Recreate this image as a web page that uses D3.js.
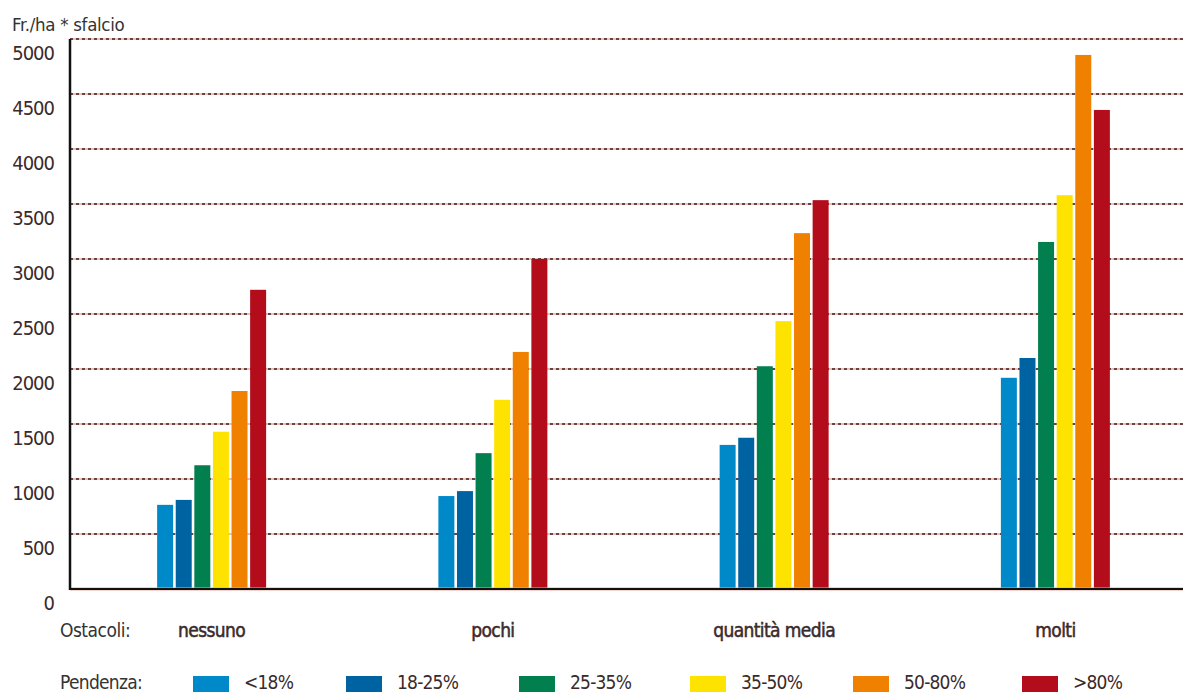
<!DOCTYPE html>
<html>
<head>
<meta charset="utf-8">
<script src="https://cdn.jsdelivr.net/npm/d3@7"></script>
<style>
  html, body { margin: 0; padding: 0; background: #fff; }
  svg { display: block; }
  text { font-family: "Liberation Sans Narrow", "DejaVu Sans Condensed", "Arial Narrow", sans-serif; }
</style>
</head>
<body>
<svg id="chart" width="1185" height="695"></svg>
<script>
// Obstacle categories (x groups)
const categories = ["nessuno", "pochi", "quantità media", "molti"];
// Slope classes (series)
const slopes = ["<18%", "18-25%", "25-35%", "35-50%", "50-80%", ">80%"];
// Costs in Fr./ha per cut, one array per slope class, in category order
const slope18 = [765, 845, 1310, 1920];
const slope18_25 = [810, 890, 1375, 2100];
const slope25_35 = [1125, 1235, 2025, 3155];
const slope35_50 = [1430, 1720, 2435, 3580];
const slope50_80 = [1800, 2155, 3235, 4855];
const slope80 = [2720, 3000, 3535, 4355];
const seriesValues = [slope18, slope18_25, slope25_35, slope35_50, slope50_80, slope80];
// Y axis ticks
const yTicks = [0, 500, 1000, 1500, 2000, 2500, 3000, 3500, 4000, 4500, 5000];
const colors = ["#0089c9", "#0063a1", "#027f4e", "#ffe300", "#f08100", "#b30d1b"];

const svg = d3.select("#chart");
const textColor = "#3b2a2a";

const plotLeft = 70, plotRight = 1183, plotTop = 39, plotBottom = 589;

const y = d3.scaleLinear().domain([0, 5000]).range([plotBottom, plotTop]);
const x0 = d3.scaleBand().domain(categories).range([71, 1196]).padding(0);
const x1 = d3.scaleBand().domain(slopes).range([0, 109]).paddingInner(0.14).paddingOuter(0);

// Horizontal grid: pink underlay with dark dashes on top
const grid = svg.append("g");
const gridVals = yTicks.filter(d => d > 0);
grid.selectAll("line.under").data(gridVals).join("line")
  .attr("class", "under")
  .attr("x1", plotLeft).attr("x2", plotRight)
  .attr("y1", d => y(d)).attr("y2", d => y(d))
  .attr("stroke", "#eba79c").attr("stroke-width", 1.6);
grid.selectAll("line.dash").data(gridVals).join("line")
  .attr("class", "dash")
  .attr("x1", plotLeft).attr("x2", plotRight)
  .attr("y1", d => y(d)).attr("y2", d => y(d))
  .attr("stroke", "#3e1c1c").attr("stroke-width", 1.4)
  .attr("stroke-dasharray", "3,3");

// Bars
const rows = [];
categories.forEach((c, ci) => {
  slopes.forEach((s, si) => rows.push({ cat: c, slope: s, si, value: seriesValues[si][ci] }));
});
svg.append("g").selectAll("rect").data(rows).join("rect")
  .attr("x", d => x0(d.cat) + x0.bandwidth() / 2 - 54.5 + x1(d.slope))
  .attr("width", x1.bandwidth())
  .attr("y", d => y(d.value))
  .attr("height", d => y(0) - y(d.value))
  .attr("fill", d => colors[d.si]);

// Baseline and vertical axis line
svg.append("line")
  .attr("x1", plotLeft).attr("x2", plotRight)
  .attr("y1", y(0)).attr("y2", y(0))
  .attr("stroke", "#eba79c").attr("stroke-width", 3);
svg.append("line")
  .attr("x1", plotLeft).attr("x2", plotRight)
  .attr("y1", y(0)).attr("y2", y(0))
  .attr("stroke", "#111").attr("stroke-width", 2);
svg.append("line")
  .attr("x1", plotLeft).attr("x2", plotLeft)
  .attr("y1", plotTop).attr("y2", plotBottom + 1)
  .attr("stroke", "#111").attr("stroke-width", 2.5);

// Y tick labels via a D3 axis, line parts hidden
const yAxis = svg.append("g")
  .attr("transform", `translate(${plotLeft - 16},0)`)
  .call(d3.axisLeft(y).tickValues(yTicks).tickFormat(d3.format("d")).tickSize(0).tickPadding(0));
yAxis.select(".domain").remove();
yAxis.selectAll("text")
  .attr("dy", "20")
  .attr("font-size", 20)
  .attr("letter-spacing", -1)
  .attr("fill", textColor)
  .style("font-family", '"Liberation Sans Narrow", "DejaVu Sans Condensed", sans-serif');

// Axis title
svg.append("text")
  .attr("x", 12).attr("y", 31)
  .attr("font-size", 18.5)
  .attr("letter-spacing", -0.3)
  .attr("fill", "#333")
  .text("Fr./ha * sfalcio");

// Category labels
svg.append("text")
  .attr("x", 60).attr("y", 637)
  .attr("font-size", 19)
  .attr("letter-spacing", -0.5)
  .attr("fill", "#333")
  .text("Ostacoli:");
svg.append("g").selectAll("text").data(categories).join("text")
  .attr("x", d => x0(d) + x0.bandwidth() / 2)
  .attr("y", 637)
  .attr("text-anchor", "middle")
  .attr("font-size", 19)
  .attr("letter-spacing", -0.6)
  .attr("fill", textColor)
  .attr("stroke", textColor)
  .attr("stroke-width", 0.5)
  .text(d => d);

// Legend
svg.append("text")
  .attr("x", 60).attr("y", 689)
  .attr("font-size", 19)
  .attr("letter-spacing", -0.7)
  .attr("fill", "#333")
  .text("Pendenza:");
const legendX = [193, 346, 519, 690, 853, 1022];
const legend = svg.append("g").selectAll("g").data(slopes).join("g")
  .attr("transform", (d, i) => `translate(${legendX[i]},676)`);
legend.append("rect")
  .attr("width", 36).attr("height", 16)
  .attr("fill", (d, i) => colors[i]);
legend.append("text")
  .attr("x", 51).attr("y", 13)
  .attr("font-size", 19)
  .attr("letter-spacing", -0.8)
  .attr("fill", textColor)
  .text(d => d);
</script>
</body>
</html>
